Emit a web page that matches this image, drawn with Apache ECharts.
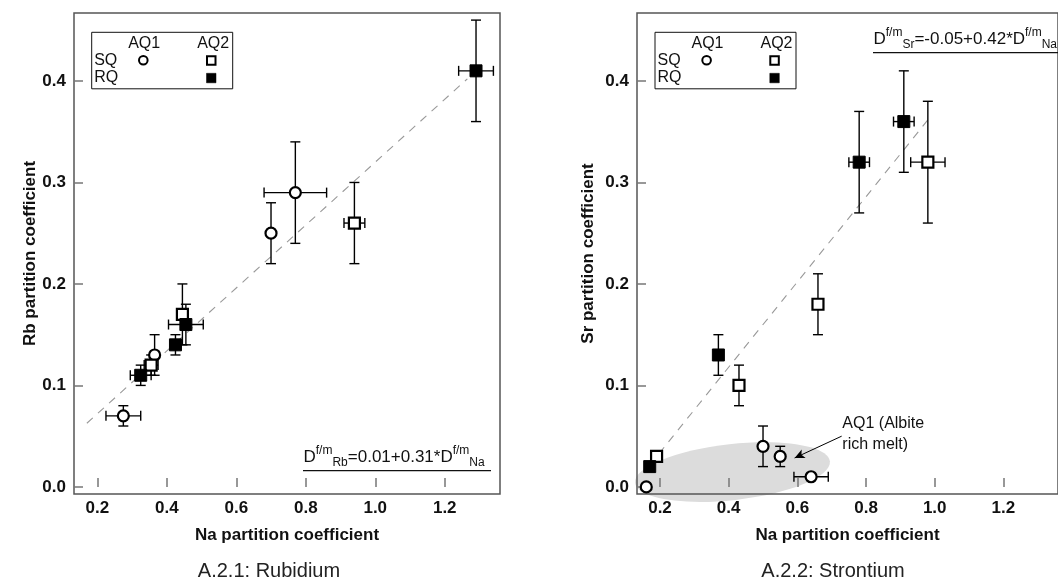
<!DOCTYPE html>
<html>
<head>
<meta charset="utf-8">
<script src="https://cdn.jsdelivr.net/npm/echarts@6/dist/echarts.min.js"></script>
<style>
  html, body { margin: 0; padding: 0; background: #fff; }
  #chart { width: 1058px; height: 581px; }
</style>
</head>
<body>
<div id="chart"></div>
<script>
const FONT = '"Liberation Sans", Arial, Helvetica, sans-serif';

// Shared tick positions
const xTicks = [0.2, 0.4, 0.6, 0.8, 1.0, 1.2];
const yTicks = [0.0, 0.1, 0.2, 0.3, 0.4];

// ---- A.2.1 Rubidium ----
// SQ / AQ1 (open circles)
const rbCircX = [0.275, 0.365, 0.70, 0.77];
const rbCircY = [0.07, 0.13, 0.25, 0.29];
const rbCircXErr = [0.05, 0, 0.01, 0.09];
const rbCircYErr = [0.01, 0.02, 0.03, 0.05];
// SQ / AQ2 (open squares)
const rbOpenX = [0.355, 0.445, 0.94];
const rbOpenY = [0.12, 0.17, 0.26];
const rbOpenXErr = [0.02, 0, 0.03];
const rbOpenYErr = [0.01, 0.03, 0.04];
// RQ / AQ2 (filled squares)
const rbFillX = [0.325, 0.425, 0.455, 1.29];
const rbFillY = [0.11, 0.14, 0.16, 0.41];
const rbFillXErr = [0.03, 0, 0.05, 0.05];
const rbFillYErr = [0.01, 0.01, 0.02, 0.05];
// Fit: D_Rb = a + b * D_Na
const rbFit = [0.01, 0.31];
const rbFitRange = [0.17, 1.265];

// ---- A.2.2 Strontium ----
const srCircX = [0.16, 0.50, 0.55, 0.64];
const srCircY = [0.00, 0.04, 0.03, 0.01];
const srCircXErr = [0, 0.01, 0.01, 0.05];
const srCircYErr = [0, 0.02, 0.01, 0];
const srOpenX = [0.19, 0.43, 0.66, 0.98];
const srOpenY = [0.03, 0.10, 0.18, 0.32];
const srOpenXErr = [0, 0, 0.01, 0.05];
const srOpenYErr = [0, 0.02, 0.03, 0.06];
const srFillX = [0.17, 0.37, 0.78, 0.91];
const srFillY = [0.02, 0.13, 0.32, 0.36];
const srFillXErr = [0, 0.01, 0.03, 0.03];
const srFillYErr = [0, 0.02, 0.05, 0.05];
const srFit = [-0.05, 0.42];
const srFitRange = [0.17, 0.985];

const X_MIN = 0.133, X_MAX = 1.359;
const Y_MIN = -0.007, Y_MAX = 0.467;

const chart = echarts.init(document.getElementById('chart'), null, { renderer: 'canvas' });

const labelStyle = { fontFamily: FONT, fontWeight: 'bold', fontSize: 17, color: '#111' };

function xAxisFor(g) {
  return {
    type: 'value', gridIndex: g, min: X_MIN, max: X_MAX,
    name: 'Na partition coefficient', nameLocation: 'middle', nameGap: 33,
    nameTextStyle: Object.assign({}, labelStyle),
    axisLine: { show: false },
    splitLine: { show: false },
    axisTick: { inside: true, length: 9, lineStyle: { color: '#777', width: 1.5 }, customValues: xTicks },
    axisLabel: Object.assign({ customValues: xTicks, formatter: v => v.toFixed(1), margin: 6 }, labelStyle)
  };
}
function yAxisFor(g, name, gap) {
  return {
    type: 'value', gridIndex: g, min: Y_MIN, max: Y_MAX,
    name: name, nameLocation: 'middle', nameGap: gap,
    nameTextStyle: Object.assign({}, labelStyle),
    axisLine: { show: false },
    splitLine: { show: false },
    axisTick: { inside: true, length: 9, lineStyle: { color: '#777', width: 1.5 }, customValues: yTicks },
    axisLabel: Object.assign({ customValues: yTicks, formatter: v => v.toFixed(1), margin: 8 }, labelStyle)
  };
}

function errorBars(g, xs, ys, xe, ye) {
  return {
    type: 'custom', xAxisIndex: g, yAxisIndex: g, z: 3, silent: true,
    encode: { x: 0, y: 1 },
    data: xs.map((x, i) => [x, ys[i], xe[i], ye[i]]),
    renderItem(params, api) {
      const x = api.value(0), y = api.value(1), dx = api.value(2), dy = api.value(3);
      const cap = 5;
      const st = { stroke: '#000', lineWidth: 1.4 };
      const kids = [];
      if (dy > 0) {
        const t = api.coord([x, y + dy]), b = api.coord([x, y - dy]);
        kids.push({ type: 'line', shape: { x1: t[0], y1: t[1], x2: b[0], y2: b[1] }, style: st });
        kids.push({ type: 'line', shape: { x1: t[0] - cap, y1: t[1], x2: t[0] + cap, y2: t[1] }, style: st });
        kids.push({ type: 'line', shape: { x1: b[0] - cap, y1: b[1], x2: b[0] + cap, y2: b[1] }, style: st });
      }
      if (dx > 0) {
        const l = api.coord([x - dx, y]), r = api.coord([x + dx, y]);
        kids.push({ type: 'line', shape: { x1: l[0], y1: l[1], x2: r[0], y2: r[1] }, style: st });
        kids.push({ type: 'line', shape: { x1: l[0], y1: l[1] - cap, x2: l[0], y2: l[1] + cap }, style: st });
        kids.push({ type: 'line', shape: { x1: r[0], y1: r[1] - cap, x2: r[0], y2: r[1] + cap }, style: st });
      }
      return { type: 'group', children: kids };
    }
  };
}

function markers(g, xs, ys, kind) {
  const base = { type: 'scatter', xAxisIndex: g, yAxisIndex: g, z: 4, silent: true, clip: false,
    data: xs.map((x, i) => [x, ys[i]]) };
  if (kind === 'circle') {
    return Object.assign(base, { symbol: 'circle', symbolSize: 11,
      itemStyle: { color: '#fff', borderColor: '#000', borderWidth: 2.2, opacity: 1 } });
  }
  if (kind === 'open') {
    return Object.assign(base, { symbol: 'rect', symbolSize: 11,
      itemStyle: { color: '#fff', borderColor: '#000', borderWidth: 2.2, opacity: 1 } });
  }
  return Object.assign(base, { symbol: 'rect', symbolSize: 12,
    itemStyle: { color: '#000', borderColor: '#000', borderWidth: 1, opacity: 1 } });
}

function fitLine(g, coef, range) {
  return {
    type: 'line', xAxisIndex: g, yAxisIndex: g, z: 2, silent: true,
    showSymbol: false, symbol: 'none',
    lineStyle: { color: '#999', width: 1.1, type: [8, 7] },
    data: range.map(x => [x, coef[0] + coef[1] * x])
  };
}

const srCircleSeries = markers(1, srCircX, srCircY, 'circle');
srCircleSeries.markLine = {
  silent: true, animation: false,
  symbol: ['none', 'arrow'], symbolSize: [7, 10],
  lineStyle: { color: '#000', width: 1, type: 'solid' },
  label: { show: false },
  data: [[{ coord: [0.729, 0.050] }, { coord: [0.592, 0.0285] }]]
};

chart.setOption({
  animation: false,
  backgroundColor: '#fff',
  grid: [
    { left: 74, top: 13, width: 426, height: 481, show: true, borderColor: '#555', borderWidth: 1.5, containLabel: false },
    { left: 637, top: 13, width: 426, height: 481, show: true, borderColor: '#555', borderWidth: 1.5, containLabel: false }
  ],
  xAxis: [xAxisFor(0), xAxisFor(1)],
  yAxis: [yAxisFor(0, 'Rb partition coefficient', 31), yAxisFor(1, 'Sr partition coefficient', 40)],
  series: [
    fitLine(0, rbFit, rbFitRange),
    errorBars(0, rbCircX, rbCircY, rbCircXErr, rbCircYErr),
    errorBars(0, rbOpenX, rbOpenY, rbOpenXErr, rbOpenYErr),
    errorBars(0, rbFillX, rbFillY, rbFillXErr, rbFillYErr),
    markers(0, rbCircX, rbCircY, 'circle'),
    markers(0, rbOpenX, rbOpenY, 'open'),
    markers(0, rbFillX, rbFillY, 'fill'),
    fitLine(1, srFit, srFitRange),
    errorBars(1, srCircX, srCircY, srCircXErr, srCircYErr),
    errorBars(1, srOpenX, srOpenY, srOpenXErr, srOpenYErr),
    errorBars(1, srFillX, srFillY, srFillXErr, srFillYErr),
    srCircleSeries,
    markers(1, srOpenX, srOpenY, 'open'),
    markers(1, srFillX, srFillY, 'fill')
  ]
});

// ---- Annotations ----
function fmtCoef(v) { return v.toFixed(2); }
const eqRich = {
  m: { fontFamily: FONT, fontSize: 17, lineHeight: 24, verticalAlign: 'middle', fill: '#111' },
  sup: { fontFamily: FONT, fontSize: 12, lineHeight: 4, verticalAlign: 'top', fill: '#111' },
  sub: { fontFamily: FONT, fontSize: 12, lineHeight: 17, verticalAlign: 'bottom', fill: '#111' }
};
function eqText(el, coef) {
  return '{m|D}{sup|f/m}{sub|' + el + '}{m|=' + fmtCoef(coef[0]) + '+' + fmtCoef(coef[1]) +
    '*D}{sup|f/m}{sub|Na}';
}

function legendBox(bx, by) {
  const t = (text, x, y, align) => ({
    type: 'text', x: x, y: y,
    style: { text: text, fontFamily: FONT, fontSize: 16, fill: '#111', align: align, verticalAlign: 'middle' }
  });
  return {
    type: 'group', x: bx, y: by, z: 5,
    children: [
      { type: 'rect', shape: { x: 0, y: 0, width: 141, height: 56.5 }, style: { fill: '#fff', stroke: '#111', lineWidth: 1 } },
      t('AQ1', 52.5, 11, 'center'),
      t('AQ2', 121.5, 11, 'center'),
      t('SQ', 2.5, 28, 'left'),
      t('RQ', 2.5, 45.5, 'left'),
      { type: 'circle', shape: { cx: 51.6, cy: 28, r: 4.3 }, style: { fill: '#fff', stroke: '#000', lineWidth: 2 } },
      { type: 'rect', shape: { x: 115.3, y: 24, width: 8.5, height: 8.5 }, style: { fill: '#fff', stroke: '#000', lineWidth: 2 } },
      { type: 'rect', shape: { x: 114.8, y: 41, width: 9.5, height: 9.5 }, style: { fill: '#000', stroke: '#000', lineWidth: 0.5 } }
    ]
  };
}

const ellC = chart.convertToPixel({ gridIndex: 1 }, [0.411, 0.0146]);
const noteP = chart.convertToPixel({ gridIndex: 1 }, [0.731, 0.052]);

chart.setOption({
  graphic: [
    // shaded region around the albite-rich melt runs
    { type: 'ellipse', x: ellC[0], y: ellC[1], rotation: 0.11, z: -10, silent: true,
      shape: { cx: 0, cy: 0, rx: 98, ry: 28 }, style: { fill: '#dcdcdc' } },
    { type: 'text', x: noteP[0], y: noteP[1], z: 5, silent: true,
      style: { text: 'AQ1 (Albite\nrich melt)', fontFamily: FONT, fontSize: 16, lineHeight: 21.5,
        fill: '#111', align: 'left', verticalAlign: 'middle' } },
    legendBox(91.7, 32.3),
    legendBox(655, 32.3),
    // fit equations
    { type: 'text', x: 303.5, y: 445, z: 5, silent: true,
      style: { text: eqText('Rb', rbFit), rich: eqRich, align: 'left', verticalAlign: 'top' } },
    { type: 'line', z: 5, silent: true, shape: { x1: 303, y1: 470.7, x2: 491, y2: 470.7 },
      style: { stroke: '#111', lineWidth: 1.3 } },
    { type: 'text', x: 873.5, y: 27, z: 5, silent: true,
      style: { text: eqText('Sr', srFit), rich: eqRich, align: 'left', verticalAlign: 'top' } },
    { type: 'line', z: 5, silent: true, shape: { x1: 873, y1: 52.7, x2: 1070, y2: 52.7 },
      style: { stroke: '#111', lineWidth: 1.3 } },
    // panel captions
    { type: 'text', x: 269, y: 571, silent: true,
      style: { text: 'A.2.1: Rubidium', fontFamily: FONT, fontSize: 20, fill: '#222', align: 'center', verticalAlign: 'middle' } },
    { type: 'text', x: 833, y: 571, silent: true,
      style: { text: 'A.2.2: Strontium', fontFamily: FONT, fontSize: 20, fill: '#222', align: 'center', verticalAlign: 'middle' } }
  ]
});
</script>
</body>
</html>
